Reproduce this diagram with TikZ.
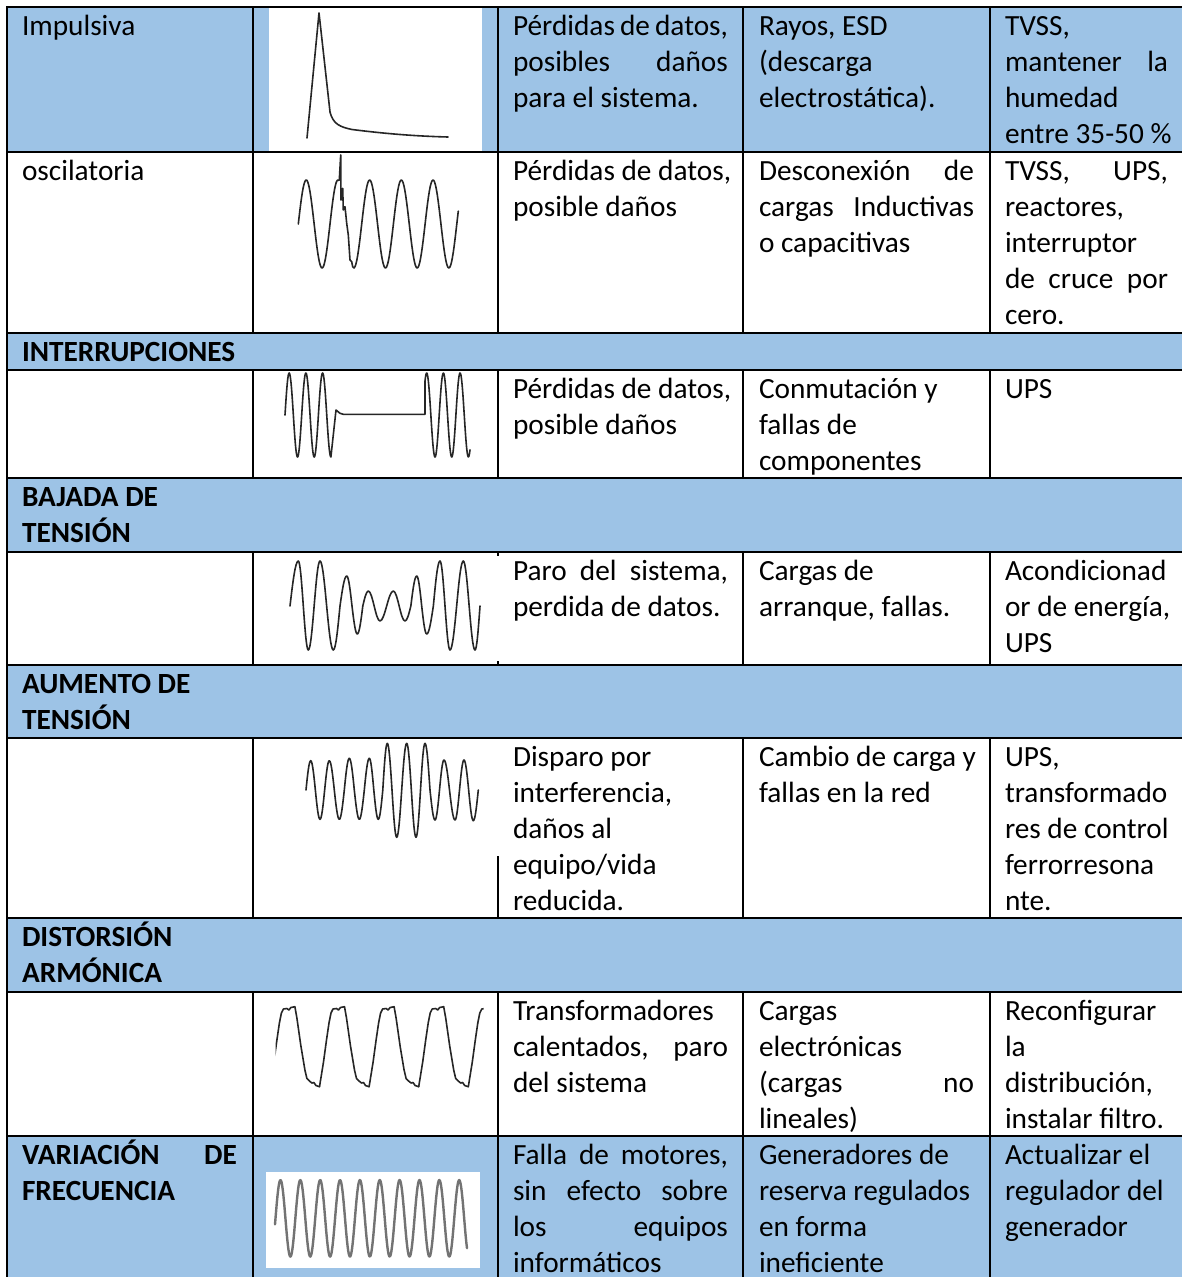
\documentclass[tikz,border=0pt]{standalone}
\usepackage{fontspec}
\setmainfont{Carlito}
\definecolor{tblue}{RGB}{157,195,230}
\newcommand{\J}[2][215pt]{\makebox[#1][s]{#2}}
\newcommand{\cell}[1]{\begin{tabular}[t]{@{}l@{}}#1\end{tabular}}
\tikzset{
  grid/.style={line width=1.7pt, black, line cap=rect},
  txt/.style={anchor=base west, inner sep=0pt, outer sep=0pt, font=\fontsize{29.3}{36}\selectfont},
  txtb/.style={txt, font=\fontsize{29.3}{36}\selectfont\bfseries},
  wave/.style={line width=1.6pt, black!85, line join=round, line cap=round},
  wavegray/.style={line width=2.4pt, black!55, line join=round, line cap=round},
}
\begin{document}
\begin{tikzpicture}[x=1pt, y=-1pt]
\useasboundingbox (0,0) rectangle (1182,1277);
\fill[white] (0,0) rectangle (1182,1277);
% blue fills
\fill[tblue] (7,7) rectangle (1182,152);
\fill[tblue] (7,333) rectangle (1182,370);
\fill[tblue] (7,478) rectangle (1182,552);
\fill[tblue] (7,665) rectangle (1182,738);
\fill[tblue] (7,918) rectangle (1182,992);
\fill[tblue] (7,1136) rectangle (1182,1277);
% image backgrounds
\fill[white] (269,7) rectangle (482,152);
\fill[white] (266,1172) rectangle (480,1268);

% waveform 1: impulse
\draw[wave] (307,138) -- (319,13) -- (330,112) .. controls (333,124) and (340,127) .. (352,129.5) .. controls (380,133) and (410,136) .. (448,137);

% waveform 2: oscillatory transient
\draw[wave] plot[domain=298.3:338.5, samples=60] (\x,{224-44*sin((\x-298.3)*11.3565)})
  -- (339.3,180) -- (340.7,155) -- (341,200) -- (342.7,188.3) -- (343.3,210) -- (345,206.7)
  -- (346.7,223.3) -- (348.3,235) -- (350,260) -- (351.7,261.7) -- (352.7,266.7)
  -- plot[domain=354:458.3, samples=120] (\x,{224-44*sin((\x-298.3)*11.3565)});

% waveform 3: interruption
\draw[wave] plot[domain=285:330.9, samples=100] (\x,{415-42*sin((\x-285)*21.557)})
  -- (336,410) -- (340,413.3) -- (343.3,414.3) -- (425,414.3)
  -- plot[domain=425:470, samples=100] (\x,{415-42*sin((\x-422.5)*21.557)});

% waveform 4: sag
\draw[wave] (290,606) sin (298.3,561)
  \foreach \xx/\yy [remember=\xx as \px (initially 298.3)] in {308.3/650, 320/561, 333.3/650, 346.7/576, 357.3/634, 368.3/591, 380/621, 393.3/591, 405/621, 416.7/576, 426.7/634, 440/561, 450/650, 463.3/561, 475/650}
  { cos ({(\px+\xx)/2},606) sin (\xx,\yy) } cos (480,606);

% waveform 5: swell
\draw[wave] (306,790) sin (310.7,760.7)
  \foreach \xx/\yy [remember=\xx as \px (initially 310.7)] in {320/819.3, 329.3/760.7, 339.3/819.3, 349.3/758.3, 359.3/819.3, 369.3/758.3, 378.3/819.3, 387.3/743.3, 396.7/837.3, 406.7/743.3, 416/837.3, 425/743.3, 435/820, 444/760, 455/820, 464/760, 473.3/820.7}
  { cos ({(\px+\xx)/2},790) sin (\xx,\yy) } cos (478.3,790);

% waveform 6: harmonic distortion
\begin{scope}
\clip (275.5,995) rectangle (483.5,1100);
\foreach \t in {269.9,319.5,369.1,418.7,468.3}
  \draw[wave, xshift=\t pt] (0,1086.7) -- (4,1062) -- (7,1040) -- (9.5,1023) -- (11.5,1013) -- (13.5,1009) -- (17,1008.5) -- (19,1010) -- (21,1007.5) -- (25,1006.7) -- (27,1018) -- (29,1032) -- (31,1046) -- (33,1058) -- (35,1070) -- (37,1078.5) -- (39.5,1081) -- (42,1083) -- (44,1082.5) -- (46,1085.5) -- (49.6,1086.7);
\end{scope}

% waveform 7: frequency variation
\draw[wavegray] plot[domain=275:467, samples=300] (\x,{1218.3-38.3*sin((\x-275.5)*18.127)});

% grid lines
\foreach \yy in {7,152,333,370,478,552,665,738,918,992,1136} \draw[grid] (7,\yy) -- (1182,\yy);
\draw[grid] (7,7) -- (7,1277);
\foreach \xx in {253,498,743,990} \draw[grid] (\xx,7) -- (\xx,333);
\foreach \xx in {253,498,743,990} \draw[grid] (\xx,370) -- (\xx,478);
\foreach \xx in {253,743,990} \draw[grid] (\xx,552) -- (\xx,665);
\draw[grid] (498,552) -- (498,555);
\draw[grid] (498,662) -- (498,665);
\foreach \xx in {253,743,990} \draw[grid] (\xx,738) -- (\xx,918);
\draw[grid] (498,857) -- (498,918);
\foreach \xx in {253,498,743,990} \draw[grid] (\xx,992) -- (\xx,1277);

% row 1
\node[txt] (r1c1) at (22,35) {\cell{Impulsiva}};
\node[txt] (r1c3) at (513,35) {\cell{\J{Pérdidas de datos,}\\\J{posibles daños}\\para el sistema.}};
\node[txt] (r1c4) at (759,35) {\cell{Rayos, ESD\\(descarga\\electrostática).}};
\node[txt] (r1c5) at (1005,35) {\cell{TVSS,\\\J[163pt]{mantener la}\\humedad\\entre 35-50 \%}};
% row 2
\node[txt] (r2c1) at (22,180) {\cell{oscilatoria}};
\node[txt] (r2c3) at (513,180) {\cell{Pérdidas de datos,\\posible daños}};
\node[txt] (r2c4) at (759,180) {\cell{\J{Desconexión de}\\\J{cargas Inductivas}\\o capacitivas}};
\node[txt] (r2c5) at (1005,180) {\cell{\J[163pt]{TVSS, UPS,}\\reactores,\\interruptor\\\J[163pt]{de cruce por}\\cero.}};
% header 1
\node[txtb] (h1) at (22,361) {\cell{INTERRUPCIONES}};
% row 3
\node[txt] (r3c3) at (513,398) {\cell{Pérdidas de datos,\\posible daños}};
\node[txt] (r3c4) at (759,398) {\cell{Conmutación y\\fallas de\\componentes}};
\node[txt] (r3c5) at (1005,398) {\cell{UPS}};
% header 2
\node[txtb] (h2) at (22,506) {\cell{BAJADA DE\\TENSIÓN}};
% row 4
\node[txt] (r4c3) at (513,580) {\cell{\J{Paro del sistema,}\\perdida de datos.}};
\node[txt] (r4c4) at (759,580) {\cell{Cargas de\\arranque, fallas.}};
\node[txt] (r4c5) at (1005,580) {\cell{Acondicionad\\or de energía,\\UPS}};
% header 3
\node[txtb] (h3) at (22,693) {\cell{AUMENTO DE\\TENSIÓN}};
% row 5
\node[txt] (r5c3) at (513,766) {\cell{Disparo por\\interferencia,\\daños al\\equipo/vida\\reducida.}};
\node[txt] (r5c4) at (759,766) {\cell{Cambio de carga y\\fallas en la red}};
\node[txt] (r5c5) at (1005,766) {\cell{UPS,\\transformado\\res de control\\ferrorresona\\nte.}};
% header 4
\node[txtb] (h4) at (22,946) {\cell{DISTORSIÓN\\ARMÓNICA}};
% row 6
\node[txt] (r6c3) at (513,1020) {\cell{Transformadores\\\J{calentados, paro}\\del sistema}};
\node[txt] (r6c4) at (759,1020) {\cell{Cargas\\electrónicas\\\J{(cargas no}\\lineales)}};
\node[txt] (r6c5) at (1005,1020) {\cell{Reconfigurar\\la\\distribución,\\instalar filtro.}};
% row 7
\node[txtb] (r7c1) at (22,1164) {\cell{\J{VARIACIÓN DE}\\FRECUENCIA}};
\node[txt] (r7c3) at (513,1164) {\cell{\J{Falla de motores,}\\\J{sin efecto sobre}\\\J{los equipos}\\informáticos}};
\node[txt] (r7c4) at (759,1164) {\cell{Generadores de\\reserva regulados\\en forma\\ineficiente}};
\node[txt] (r7c5) at (1005,1164) {\cell{Actualizar el\\regulador del\\generador}};
\end{tikzpicture}
\end{document}
